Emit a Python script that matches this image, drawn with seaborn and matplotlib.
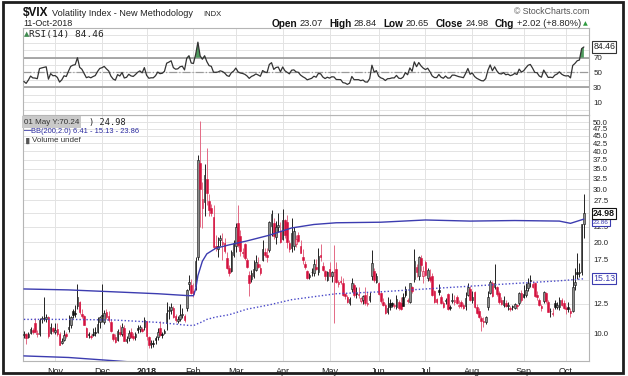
import numpy as np
import pandas as pd
import matplotlib
matplotlib.use("Agg")
import matplotlib.pyplot as plt
import seaborn as sns
from matplotlib.patches import Rectangle
from matplotlib.ticker import FixedLocator, NullLocator, NullFormatter, FuncFormatter

# ---- daily OHLC, 12-Oct-2017 .. 11-Oct-2018 ----
opens = [
    9.85, 9.90, 9.72, 10.00, 10.25, 10.80, 9.90, 9.95, 11.15, 11.20, 11.10, 11.30, 10.00, 10.40,
    10.05, 10.30, 9.90, 9.30, 9.50, 9.90, 10.30, 10.60, 11.80, 11.60, 12.30, 12.70, 11.60, 11.40, 10.40, 9.90, 9.80, 9.90, 10.10, 10.10, 10.90,
    11.50, 10.90, 11.70, 11.40, 10.90, 9.90, 9.70, 9.50, 10.10, 9.90, 10.40, 9.40, 9.60, 10.10, 9.80, 9.70, 10.40, 10.30, 10.30, 10.50,
    10.95, 9.70, 9.20, 9.30, 9.60, 9.70, 10.40, 9.90, 10.00, 10.80, 11.80, 11.90, 12.10, 11.40, 11.00, 11.10, 11.50, 11.40, 12.10, 14.50, 14.40,
    13.80, 14.30, 17.80, 36.50, 26.00, 27.20, 32.50, 27.40, 26.00, 24.20, 19.40, 19.00, 20.30, 19.80, 19.90, 17.70, 16.40, 16.00, 18.20,
    19.50, 23.20, 21.00, 18.60, 19.70, 17.50, 15.60, 15.10, 15.40, 16.20, 17.00, 16.40, 17.50, 18.60, 18.20, 18.90, 22.70, 23.20, 20.80, 22.50, 21.80,
    20.50, 23.70, 23.30, 19.90, 19.20, 19.50, 19.70, 21.20, 19.50, 17.80, 17.00, 16.00, 15.30, 15.90, 15.80, 16.60, 15.90, 18.20, 16.70, 16.00, 15.00,
    16.30, 15.40, 15.90, 16.30, 14.50, 14.90, 14.70, 13.50, 13.20, 12.60, 14.00, 14.40, 13.60, 13.40, 12.80, 12.90, 13.40, 12.50, 12.90, 15.40, 16.00, 14.80,
    14.60, 13.60, 12.70, 12.40, 11.70, 12.60, 12.60, 12.30, 12.20, 12.70, 12.60, 13.20, 14.00, 12.90, 12.70, 14.20, 15.10, 16.60, 15.40, 17.70, 15.50,
    17.20, 15.20, 15.30, 15.40, 13.80, 13.00, 13.90, 13.20, 12.60, 12.80, 13.50, 12.20, 12.80, 12.70, 13.20, 12.30, 12.70, 12.40, 12.30, 13.40, 14.00,
    12.90, 13.70, 12.20, 11.80, 11.20, 11.00, 10.90, 12.20, 13.60, 14.60, 14.20, 14.20, 13.60, 12.90, 12.40, 12.60, 12.30, 12.10, 12.30, 12.10, 12.40, 12.60, 13.60,
    13.50, 13.40, 14.10, 15.00, 14.50, 14.70, 13.40, 12.90, 12.30, 12.80, 13.60, 12.70, 11.80, 11.60, 12.60, 12.20, 12.20, 12.90, 12.60,
    12.10, 12.20, 11.80, 11.80, 14.40, 15.90, 15.80, 15.90, 23.07,
]
highs = [
    10.15, 9.98, 10.09, 10.45, 10.40, 11.25, 10.20, 11.20, 11.40, 13.20, 11.60, 11.40, 10.80, 10.50,
    10.80, 10.80, 10.10, 9.60, 10.20, 10.10, 11.50, 11.40, 12.00, 12.40, 14.50, 12.80, 12.00, 11.50, 10.50, 10.10, 9.95, 10.40, 10.50, 11.30, 11.40,
    14.58, 11.90, 12.00, 11.80, 11.10, 10.00, 9.90, 10.30, 10.60, 10.80, 10.60, 9.80, 10.20, 10.40, 10.00, 10.10, 10.60, 10.60, 10.50, 11.30,
    11.00, 9.80, 9.50, 9.50, 9.80, 10.40, 11.00, 10.10, 10.30, 12.70, 12.30, 12.60, 12.30, 11.60, 11.40, 12.50, 12.10, 11.60, 14.00, 15.60, 15.10,
    14.60, 17.90, 38.80, 50.30, 31.60, 36.20, 41.10, 28.90, 26.70, 26.60, 21.10, 20.80, 21.10, 21.40, 20.60, 18.60, 16.80, 18.90, 20.40,
    23.10, 26.50, 21.90, 19.20, 19.90, 17.70, 16.10, 16.20, 17.40, 18.10, 17.90, 16.90, 20.40, 19.10, 19.20, 23.50, 25.50, 24.10, 23.50, 25.00, 23.40,
    25.70, 23.80, 24.60, 20.30, 24.00, 22.40, 21.20, 21.70, 20.40, 19.00, 17.30, 16.20, 15.80, 16.40, 17.60, 17.60, 19.10, 19.70, 17.20, 16.20, 16.00,
    17.20, 16.10, 19.60, 17.20, 15.00, 15.50, 15.20, 13.60, 13.40, 13.20, 15.20, 14.60, 14.20, 14.20, 13.20, 13.40, 14.20, 13.70, 13.70, 18.80, 16.40, 15.80,
    14.80, 13.70, 13.10, 12.60, 13.20, 13.00, 12.70, 12.60, 13.40, 12.90, 13.20, 13.60, 14.30, 13.10, 14.60, 14.30, 19.00, 16.90, 18.00, 18.10, 16.70,
    17.50, 16.40, 16.30, 15.80, 13.90, 13.10, 14.50, 13.40, 12.80, 13.10, 13.60, 12.40, 13.60, 13.40, 13.40, 12.90, 12.90, 12.60, 13.70, 14.60, 14.30,
    13.80, 13.80, 12.50, 12.10, 11.40, 11.30, 11.40, 13.80, 15.00, 14.90, 16.90, 14.30, 13.80, 13.20, 13.30, 12.90, 12.70, 12.30, 12.40, 12.60, 12.50, 13.70, 13.90,
    14.40, 14.70, 15.20, 15.60, 14.90, 14.80, 13.80, 13.10, 12.50, 13.80, 13.70, 12.90, 12.10, 12.10, 12.90, 12.70, 13.20, 13.10, 12.90,
    12.30, 12.70, 12.10, 15.60, 16.40, 18.40, 17.10, 22.96, 28.84,
]
lows = [
    9.60, 9.19, 9.60, 9.90, 9.90, 10.05, 9.70, 9.80, 10.80, 11.00, 10.90, 9.60, 9.90, 10.00,
    9.90, 9.80, 9.10, 9.20, 9.40, 9.60, 10.10, 10.40, 11.20, 11.30, 12.00, 11.60, 11.20, 10.60, 9.70, 9.60, 9.55, 9.80, 9.80, 10.00, 10.40,
    10.90, 10.70, 11.10, 10.90, 10.10, 9.40, 9.30, 9.40, 9.80, 9.80, 9.40, 9.30, 9.40, 9.60, 9.50, 9.50, 10.00, 10.10, 10.10, 10.20,
    9.50, 8.90, 8.92, 9.00, 9.20, 9.50, 9.80, 9.60, 9.90, 10.20, 11.10, 11.60, 11.20, 10.90, 10.80, 11.00, 11.20, 10.90, 11.80, 13.90, 13.50,
    13.20, 13.90, 17.40, 22.40, 22.30, 24.50, 26.50, 24.40, 24.40, 19.00, 18.70, 17.80, 19.50, 17.50, 18.40, 16.30, 15.50, 15.90, 17.80,
    18.50, 19.30, 18.00, 17.80, 17.40, 16.40, 13.30, 14.80, 15.20, 16.10, 16.40, 15.60, 17.30, 17.90, 17.20, 18.50, 21.00, 20.50, 19.70, 21.60, 19.90,
    20.30, 20.70, 19.20, 18.60, 18.50, 18.90, 19.30, 20.00, 18.40, 17.00, 16.30, 15.10, 15.10, 15.50, 15.50, 16.20, 15.60, 17.30, 16.00, 15.00, 14.90,
    15.30, 14.80, 10.80, 14.60, 14.20, 14.50, 13.30, 13.00, 12.60, 12.40, 13.70, 13.20, 13.10, 13.10, 12.60, 12.50, 12.40, 12.30, 12.70, 15.00, 14.80, 14.70,
    13.40, 12.60, 12.30, 11.60, 11.60, 11.90, 12.20, 12.10, 12.00, 11.90, 11.90, 12.30, 13.20, 12.60, 12.60, 13.60, 14.80, 15.30, 15.00, 16.00, 14.60,
    15.40, 14.90, 14.80, 13.30, 12.60, 12.50, 13.40, 12.50, 12.10, 12.50, 11.90, 11.90, 12.60, 12.40, 12.50, 12.10, 12.10, 12.00, 11.90, 13.30, 12.80,
    12.60, 12.10, 11.60, 11.20, 10.17, 10.50, 10.70, 11.90, 13.50, 13.20, 14.00, 13.30, 12.50, 12.40, 12.20, 12.20, 11.90, 11.80, 11.90, 12.00, 12.00, 12.40, 12.70,
    13.10, 13.20, 13.80, 14.20, 14.10, 13.20, 12.90, 12.30, 11.80, 12.60, 12.60, 11.70, 11.30, 11.40, 12.00, 12.00, 11.90, 12.30, 12.00,
    11.60, 11.70, 11.30, 11.70, 13.90, 15.10, 15.30, 15.60, 20.65,
]
closes = [
    9.91, 9.61, 9.91, 10.31, 10.07, 10.05, 9.97, 11.07, 11.16, 11.23, 11.30, 9.80, 10.50, 10.18,
    10.20, 9.93, 9.14, 9.40, 9.89, 9.78, 10.50, 11.29, 11.50, 11.59, 13.13, 11.76, 11.43, 10.65, 9.73, 9.88, 9.67, 9.87, 10.03, 10.70, 11.28,
    11.43, 11.68, 11.33, 11.02, 10.16, 9.58, 9.34, 10.18, 9.92, 10.49, 9.42, 9.53, 10.03, 9.72, 9.62, 9.90, 10.25, 10.47, 10.18, 11.04,
    9.77, 9.15, 9.22, 9.22, 9.52, 10.08, 9.82, 9.88, 10.16, 11.66, 11.91, 12.22, 11.27, 11.03, 11.10, 11.47, 11.58, 11.08, 13.84, 14.79, 13.54,
    13.47, 17.31, 37.32, 29.98, 27.73, 33.46, 29.06, 25.61, 24.97, 19.26, 19.13, 19.46, 20.60, 20.02, 18.72, 16.49, 15.80, 18.59, 19.85,
    22.47, 19.59, 18.73, 18.36, 17.76, 16.54, 14.64, 15.78, 16.35, 17.23, 16.59, 15.80, 19.02, 18.20, 17.86, 23.34, 24.87, 21.03, 22.50, 22.87, 19.97,
    23.62, 21.10, 20.06, 18.94, 21.49, 21.77, 20.47, 20.24, 18.49, 17.41, 16.56, 15.25, 15.60, 15.96, 16.88, 16.34, 18.02, 17.84, 16.24, 15.41, 15.93,
    15.49, 15.97, 15.90, 14.77, 14.75, 14.71, 13.42, 13.23, 12.65, 12.93, 14.63, 13.42, 13.43, 13.42, 13.08, 13.22, 12.58, 12.53, 13.22, 17.02, 14.94, 15.43,
    13.46, 12.74, 12.40, 11.64, 12.13, 12.18, 12.35, 12.34, 12.94, 12.12, 11.98, 12.31, 13.35, 12.79, 14.64, 13.77, 17.33, 15.92, 17.91, 16.85, 16.09,
    15.60, 16.14, 14.97, 13.37, 12.69, 12.64, 13.63, 12.58, 12.18, 12.83, 12.06, 12.10, 12.87, 12.86, 12.62, 12.41, 12.29, 12.14, 13.03, 14.26, 12.83,
    13.15, 12.19, 11.64, 11.27, 10.93, 10.85, 11.27, 13.16, 14.78, 13.31, 14.64, 13.45, 12.64, 12.49, 12.86, 12.25, 12.41, 11.99, 12.16, 12.50, 12.25, 13.53, 12.86,
    13.16, 13.91, 14.65, 14.88, 14.16, 13.22, 13.14, 12.37, 12.07, 13.68, 12.79, 11.75, 11.80, 11.68, 12.20, 12.42, 12.89, 12.41, 12.12,
    12.00, 12.05, 11.61, 14.22, 14.82, 15.69, 15.95, 22.96, 24.98,
]
# closes before the visible window (only used to seed RSI)
warmup_closes = [11.22, 10.59, 10.13, 12.23, 11.63, 11.55, 12.12, 10.73, 10.58, 10.50, 10.44,
                 10.17, 10.15, 10.18, 9.78, 9.67, 9.59, 10.21, 10.17, 9.87, 9.55, 9.51, 9.45,
                 9.51, 9.63, 9.19, 9.65, 9.58, 10.33, 10.08, 9.85]

# Bollinger Bands (200, 2.0) at selected trading days
bb_day = [0, 20, 40, 60, 74, 76, 77, 78, 80, 82, 86, 92, 100, 110, 120, 130, 140, 160, 180, 200, 220, 240, 245, 251]
bb_upper = [14.0, 13.9, 13.7, 13.5, 13.3, 13.3, 14.0, 15.5, 17.3, 18.3, 19.1, 19.6, 20.2, 21.1, 22.3, 22.9, 23.2, 23.3, 23.7, 23.5, 23.6, 23.5, 23.1, 23.86]
bb_mid = [11.1, 11.1, 11.05, 10.85, 10.6, 10.6, 10.65, 10.75, 10.9, 11.1, 11.3, 11.5, 12.0, 12.4, 12.9, 13.2, 13.5, 13.7, 14.0, 14.3, 14.6, 14.9, 15.0, 15.13]
bb_lower = [8.4, 8.3, 8.1, 7.9, 7.8, 7.7, 7.3, 5.5, 4.3, 4.0, 3.8, 3.5, 3.8, 3.8, 3.5, 3.5, 3.8, 4.1, 4.3, 5.1, 5.6, 6.3, 6.7, 6.41]

holidays = ["2017-11-23", "2017-12-25", "2018-01-01", "2018-01-15", "2018-02-19",
            "2018-03-30", "2018-05-28", "2018-07-04", "2018-09-03"]
month_names = ["Nov", "Dec", "2018", "Feb", "Mar", "Apr", "May", "Jun", "Jul", "Aug", "Sep", "Oct"]

dates = pd.bdate_range("2017-10-12", "2018-10-11", freq="C", holidays=holidays)
df = pd.DataFrame({"open": opens, "high": highs, "low": lows, "close": closes})
df["date"] = dates[:len(df)]
df["day"] = np.arange(len(df))

# RSI(14), Wilder smoothing
allc = pd.Series(warmup_closes + closes)
delta = allc.diff()
gain = delta.clip(lower=0).ewm(alpha=1 / 14, adjust=False).mean()
loss = (-delta.clip(upper=0)).ewm(alpha=1 / 14, adjust=False).mean()
rsi = (100 - 100 / (1 + gain / loss)).iloc[len(warmup_closes):].to_numpy()
df["rsi"] = rsi

month_start = df.groupby(df["date"].dt.to_period("M"))["day"].min().to_numpy()[1:]

sns.set_style("white")
plt.rcParams["font.family"] = ["Liberation Sans", "DejaVu Sans"]

W, H = 628, 376
fig = plt.figure(figsize=(W / 100, H / 100), dpi=100)
fx = lambda x: x / W
fy = lambda y: 1 - y / H

ax_p = fig.add_axes([fx(23), fy(361), fx(589) - fx(23), fy(115) - fy(361)])
ax_r = fig.add_axes([fx(23), fy(115), fx(589) - fx(23), fy(28) - fy(115)], sharex=ax_p)

grid_c = "#e3e3e3"
red = "#d4123f"

# ---------------- price panel ----------------
prev = np.r_[warmup_closes[-1], df["close"].to_numpy()[:-1]]
up = df["close"].to_numpy() >= prev
hollow = df["close"].to_numpy() >= df["open"].to_numpy()
x = df["day"].to_numpy()
ax_p.vlines(x[up], df["low"][up], df["high"][up], color="#222222", lw=0.7, zorder=3)
ax_p.vlines(x[~up], df["low"][~up], df["high"][~up], color="#e46a85", lw=0.7, zorder=3)
face = np.where(up, np.where(hollow, "#8c8c8c", "#111111"), np.where(hollow, "#f3a3b6", red))
edge = np.where(up, "#111111", red)
bottom = np.minimum(df["open"], df["close"])
height = np.maximum(np.abs(df["close"] - df["open"]), 0.06)
ax_p.bar(x, height, bottom=bottom, width=0.72, color=face, edgecolor=edge, linewidth=0.4, zorder=4)

bb = pd.DataFrame({"day": bb_day, "upper": bb_upper, "mid": bb_mid, "lower": bb_lower})
sns.lineplot(data=bb, x="day", y="upper", ax=ax_p, color="#3c3cb0", lw=1.0, zorder=5)
sns.lineplot(data=bb, x="day", y="lower", ax=ax_p, color="#3c3cb0", lw=1.0, zorder=5)
sns.lineplot(data=bb, x="day", y="mid", ax=ax_p, color="#4848c8", lw=1.0, ls=(0, (1, 1.5)), zorder=5)

ax_p.set_yscale("log")
ax_p.set_ylim(8.08, 52.8)
ax_p.set_xlim(-0.4, 253.3)
price_ticks = np.arange(10, 50.01, 2.5)
hidden_price = (15.0, 25.0)   # covered by the value flags
ax_p.yaxis.set_major_locator(FixedLocator(price_ticks))
ax_p.yaxis.set_minor_locator(NullLocator())
ax_p.yaxis.set_minor_formatter(NullFormatter())
ax_p.yaxis.set_major_formatter(FuncFormatter(lambda v, p: "" if round(v, 1) in hidden_price else f"{v:.1f}"))
ax_p.yaxis.tick_right()
ax_p.tick_params(axis="y", length=0, pad=3, labelsize=5.6, labelcolor="#222222")
ax_p.set_xticks(month_start)
ax_p.set_xticklabels(month_names)
ax_p.tick_params(axis="x", length=3, width=0.6, color="#999999", pad=1.5, labelsize=6.5, labelcolor="#222222")
ax_p.get_xticklabels()[2].set_fontweight("bold")
ax_p.set_xlabel("")
ax_p.set_ylabel("")
ax_p.grid(True, color=grid_c, lw=0.7)
ax_p.set_axisbelow(True)

# ---------------- RSI panel ----------------
sns.lineplot(data=df, x="day", y="rsi", ax=ax_r, color="#333333", lw=0.9, zorder=4)
ax_r.fill_between(df["day"], 70, df["rsi"], where=df["rsi"] > 70, interpolate=True,
                  color="#4f9a5e", lw=0, zorder=3)
ax_r.axhline(70, color="#9a9a9a", lw=1.2, zorder=2)
ax_r.axhline(30, color="#9a9a9a", lw=1.2, zorder=2)
ax_r.axhline(50, color="#9a9a9a", lw=0.9, ls="-.", zorder=2)
ax_r.set_ylim(-7.4, 110.1)
ax_r.set_yticks(np.arange(0, 101, 10))
ax_r.yaxis.set_major_formatter(FuncFormatter(lambda v, p: f"{v:.0f}" if int(round(v)) in (10, 30, 50, 70) else ""))
ax_r.yaxis.tick_right()
ax_r.tick_params(axis="y", length=0, pad=3, labelsize=5.8, labelcolor="#222222")
ax_r.tick_params(axis="x", length=0, labelbottom=False)
ax_r.set_xlabel("")
ax_r.set_ylabel("")
ax_r.grid(True, color=grid_c, lw=0.7)
ax_r.set_axisbelow(True)

for a in (ax_p, ax_r):
    for s in a.spines.values():
        s.set_color("#b5b5b5")
        s.set_linewidth(0.8)

# value flags on the right axis
def flag(ax, value, text, ec, tc, bold=False, size=6, z=6):
    ax.annotate(text, xy=(1, value), xycoords=("axes fraction", "data"), xytext=(3, 0),
                textcoords="offset points", va="center", ha="left", fontsize=size, color=tc,
                fontweight="bold" if bold else "normal", annotation_clip=False, zorder=z,
                bbox=dict(boxstyle="square,pad=0.12", fc="white", ec=ec, lw=0.8))

flag(ax_p, 24.98, "24.98", "#111111", "#111111", bold=True, size=6.3, z=7)
flag(ax_p, 23.25, "23.86", "#3c3cb0", "#3c3cb0", size=4.6, z=6)
flag(ax_p, 15.13, "15.13", "#3c3cb0", "#3c3cb0", size=6.3)
flag(ax_r, 84.46, "84.46", "#333333", "#222222", size=6.3)

# ---------------- header & legends ----------------
fig.text(fx(23), fy(13), "$VIX", fontsize=8.5, fontweight="bold", va="center", color="#111111")
fig.text(fx(52), fy(13.5), "Volatility Index - New Methodology", fontsize=6.6, va="center", color="#222222")
fig.text(fx(203), fy(14), "INDX", fontsize=5.5, va="center", color="#222222")
fig.text(fx(23), fy(24), "11-Oct-2018", fontsize=6.5, va="center", color="#222222")
fig.text(fx(589), fy(11), "\u00a9 StockCharts.com", fontsize=6.3, ha="right", va="center", color="#555555")

# quote line: bold labels followed by values, laid out so it ends near x=581
header = [("Open", "23.07"), ("High", "28.84"), ("Low", "20.65"), ("Close", "24.98"), ("Chg", "+2.02 (+8.80%)")]
renderer = fig.canvas.get_renderer()
pieces = []
for lab, val in header:
    t1 = fig.text(0, fy(24), lab, fontsize=7.2, fontweight="bold", va="center", color="#111111")
    t2 = fig.text(0, fy(24), val, fontsize=6.7, va="center", color="#222222")
    pieces.append((t1, 2.5))
    pieces.append((t2, 6.5))
widths = [p[0].get_window_extent(renderer).width for p in pieces]
total = sum(widths) + sum(p[1] for p in pieces[:-1])
cur = 581 - total
for (t, gap), w in zip(pieces, widths):
    t.set_x(fx(cur))
    cur += w + gap
fig.text(fx(583), fy(24), "\u25b2", fontsize=4.5, va="center", color="#2e9a3e",
         family=["DejaVu Sans"])

fig.text(fx(23.5), fy(34), "\u25b2", fontsize=5, va="center", color="#3f8a4f", family=["DejaVu Sans"])
fig.text(fx(29), fy(34), "RSI(14) 84.46", fontsize=6.8, va="center", color="#222222",
         family=["DejaVu Sans Mono"])

fig.text(fx(24), fy(122), "01 May Y:70.24", fontsize=5.8, va="center", color="#333333",
         bbox=dict(boxstyle="square,pad=0.25", fc="#c9c9c9", ec="none"))
fig.text(fx(89), fy(122), ") 24.98", fontsize=6.2, va="center", color="#222222",
         family=["DejaVu Sans Mono"])
fig.text(fx(24), fy(131), "\u2014", fontsize=5.5, va="center", color="#2a2aa0", fontweight="bold")
fig.text(fx(31), fy(131.5), "BB(200,2.0) 6.41 - 15.13 - 23.86", fontsize=5.4, va="center", color="#2a2aa0")
fig.text(fx(24), fy(141), "\u2590\u258c", fontsize=4, va="center", color="#555555", family=["DejaVu Sans"])
fig.text(fx(32), fy(141), "Volume undef", fontsize=5.8, va="center", color="#333333")

# outer frame
fig.patches.append(Rectangle((fx(3), fy(373)), fx(623) - fx(3), fy(2) - fy(373), fill=False,
                             ec="#1e1e1e", lw=2.0, transform=fig.transFigure, figure=fig))

fig.savefig("out.png", dpi=100)
